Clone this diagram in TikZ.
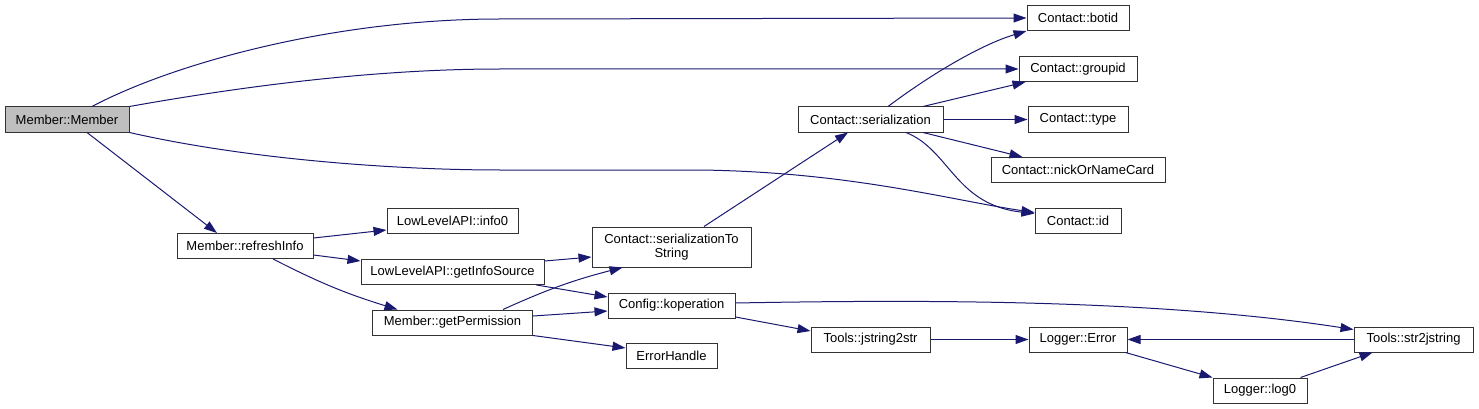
\documentclass[tikz,border=0pt]{standalone}
\usepackage{fontspec}
\setmainfont{Liberation Sans}
\usetikzlibrary{arrows.meta, positioning}
\definecolor{edgeblue}{HTML}{191970}
\definecolor{rootgray}{HTML}{BFBFBF}

\begin{document}
\begin{tikzpicture}[x=1pt,y=-1pt,node distance=50pt,on grid,
    fn/.style={draw=black!80,line width=1pt,fill=white,inner sep=0pt,
               minimum height=25pt,font=\fontsize{13}{14}\selectfont},
    call/.style={draw=edgeblue,line width=1pt,
                 -{Triangle[length=13pt,width=9pt]}}]
             \useasboundingbox (0,0) rectangle (1479,409);
             \node[fn,fill=rootgray,minimum width=124pt] (mm) at (67,119.5) {Member::Member};
             \node[fn,minimum width=136pt] (ri) [below right=126.5pt and 178pt of mm] {Member::refreshInfo};
             \node[fn,minimum width=131pt] (info0) [above right=25pt and 207.5pt of ri] {LowLevelAPI::info0};
             \node[fn,minimum width=183pt] (gis) [below=51pt of info0] {LowLevelAPI::getInfoSource};
             \node[fn,minimum width=160pt] (gp) [below=50.5pt of gis] {Member::getPermission};
             \node[fn,minimum width=159pt,minimum height=40pt,align=center] (cst) [above right=25pt and 219pt of gis] {Contact::serializationTo\\String};
             \node[fn,minimum width=127pt] (kop) [below=58.5pt of cst] {Config::koperation};
             \node[fn,minimum width=91pt] (eh) [below=50.5pt of kop] {ErrorHandle};
             \node[fn,minimum width=145pt] (ser) [above right=127.5pt and 199pt of cst] {Contact::serialization};
             \node[fn,minimum width=119pt] (js2s) [below right=34pt and 199pt of kop] {Tools::jstring2str};
             \node[fn,minimum width=100pt] (type) [right=207.5pt of ser] {Contact::type};
             \node[fn,minimum width=118pt] (grp) [above=50.5pt of type] {Contact::groupid};
             \node[fn,minimum width=102pt] (botid) [above=51pt of grp] {Contact::botid};
             \node[fn,minimum width=174pt] (nick) [below=50.5pt of type] {Contact::nickOrNameCard};
             \node[fn,minimum width=86pt] (id) [below=50.5pt of nick] {Contact::id};
             \node[fn,minimum width=98pt] (err) [right=207.5pt of js2s] {Logger::Error};
             \node[fn,minimum width=94pt] (log0) [below right=51pt and 182pt of err] {Logger::log0};
             \node[fn,minimum width=119pt] (s2j) [right=335.5pt of err] {Tools::str2jstring};
             % long calls out of the constructor
             \draw[call] ([xshift=25pt]mm.north) .. controls (170,65) and (330,19) .. (500,19) -- (botid.west);
             \draw[call] (mm.north east) .. controls (250,85) and (380,69) .. (500,69) -- (grp.west);
             \draw[call] (mm.south east) .. controls (250,160) and (400,170) .. (500,170) -- (700,170)
                         .. controls (850,172) and (950,200) .. ([yshift=8pt]id.west);
             \draw[call] ([xshift=35.5pt]ser.south) .. controls (950,150) and (955,205) .. ([yshift=7pt]id.west);
             \draw[call] ([xshift=17.5pt]ser.north) .. controls (930,75) and (980,45) .. (botid.south west);
             \draw[call] ([yshift=2.5pt]kop.east) .. controls (900,300) and (1150,298) .. ([yshift=10pt]s2j.west);
             \path[every edge/.style=call]
             ([xshift=20pt]mm.south) edge ([xshift=-28pt]ri.north)
             ([yshift=8pt]ri.east) edge ([yshift=-9pt]info0.west)
             ([yshift=-9pt]ri.east) edge ([yshift=11pt]gis.west)
             ([xshift=28pt]ri.south) edge[bend right=5] ([xshift=-55pt]gp.north)
             ([yshift=11pt]gis.east) edge ([yshift=-10pt]cst.west)
             ([xshift=-8pt]gis.south east) edge ([yshift=8.5pt]kop.west)
             ([xshift=-30pt]gp.north east) edge[bend left=5] ([xshift=31pt]cst.south west)
             ([yshift=6.5pt]gp.east) edge ([yshift=-5.5pt]kop.west)
             (gp.south east) edge ([yshift=8pt]eh.west)
             ([xshift=32.5pt]cst.north) edge ([xshift=-22.5pt]ser.south)
             ([xshift=52.5pt]ser.north) edge ([xshift=7pt]grp.south west)
             (ser.east) edge (type.west)
             ([xshift=52.5pt]ser.south) edge ([xshift=32pt]nick.north west)
             ([yshift=-11.5pt]kop.east) edge ([yshift=8.5pt]js2s.west)
             (js2s.east) edge (err.west)
             (s2j.west) edge (err.east)
             ([xshift=-2pt]err.south east) edge (log0.north west)
             ([xshift=-7pt]log0.north east) edge ([xshift=19pt]s2j.south west);
\end{tikzpicture}
\end{document}
